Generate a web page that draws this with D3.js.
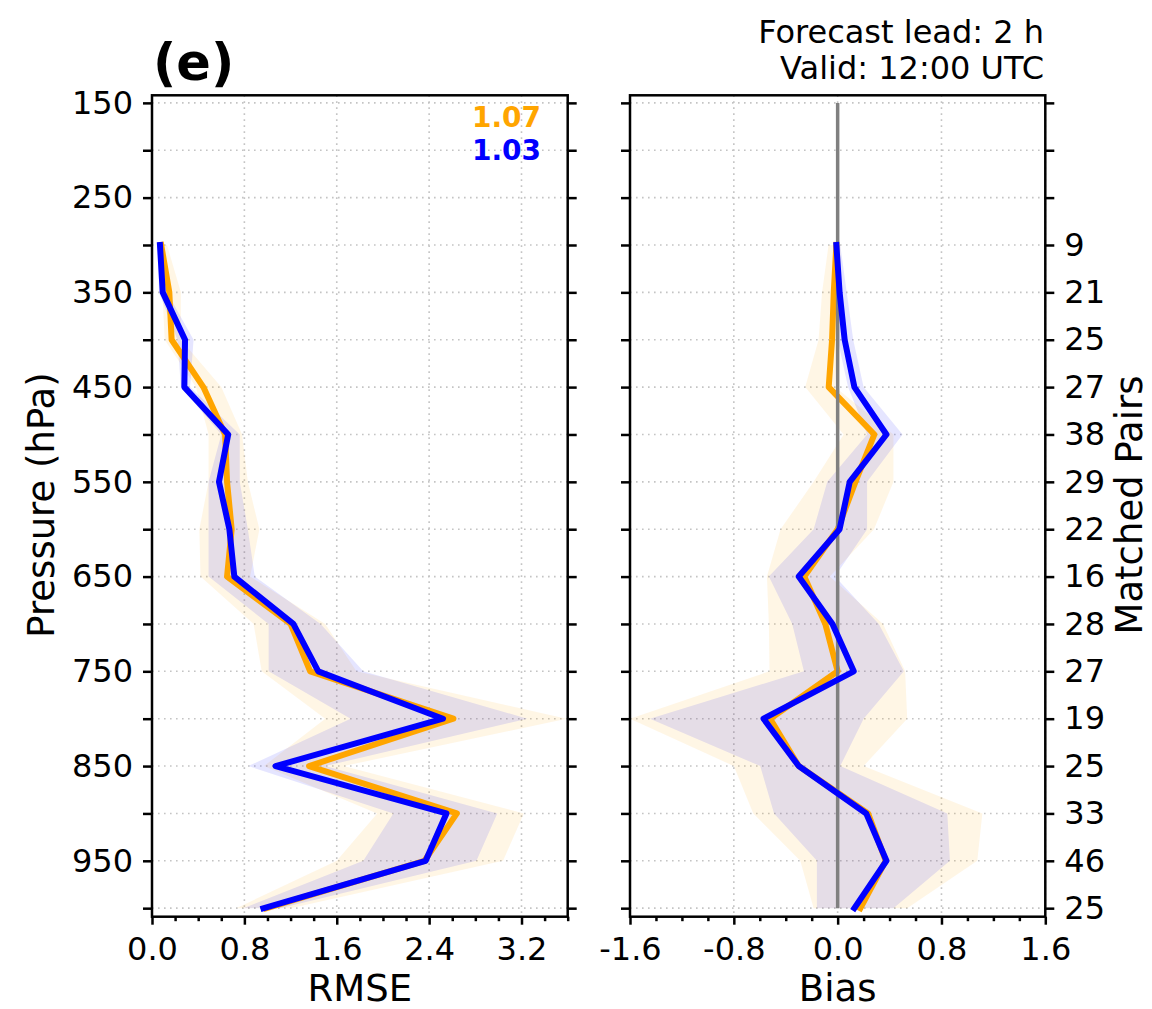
<!DOCTYPE html>
<html><head><meta charset="utf-8">
<script src="https://cdn.jsdelivr.net/npm/d3@7"></script>
<style>body{margin:0;background:#fff} text{font-family:"DejaVu Sans",sans-serif;fill:#000}</style>
</head><body><svg id="c" width="1152" height="1009"></svg>
<script>
// ---------------- data ----------------
const pressures     = [300, 350, 400, 450, 500, 550, 600, 650, 700, 750, 800, 850, 900, 950, 1000];
// RMSE (left panel)
const rmseOrange    = [0.08, 0.15, 0.17, 0.445, 0.633, 0.65, 0.69, 0.65, 1.20, 1.37, 2.61, 1.36, 2.64, 2.36, 0.99];
const rmseOrangeLo  = [0.06, 0.09, 0.11, 0.38, 0.49, 0.49, 0.41, 0.42, 0.88, 0.95, 1.50, 0.97, 1.95, 1.60, 0.73];
const rmseOrangeHi  = [0.13, 0.25, 0.25, 0.60, 0.78, 0.83, 0.93, 0.85, 1.50, 1.77, 3.59, 1.66, 3.22, 3.04, 1.20];
const rmseBlue      = [0.069, 0.093, 0.286, 0.28, 0.66, 0.58, 0.67, 0.713, 1.224, 1.44, 2.52, 1.07, 2.55, 2.37, 0.965];
const rmseBlueLo    = [0.05, 0.06, 0.22, 0.25, 0.60, 0.49, 0.49, 0.49, 1.01, 1.01, 1.72, 0.835, 2.09, 1.83, 0.79];
const rmseBlueHi    = [0.09, 0.13, 0.36, 0.33, 0.76, 0.76, 0.83, 0.89, 1.46, 1.83, 3.25, 1.50, 2.99, 2.81, 1.11];
// Bias (right panel)
const biasOrange    = [-0.01, -0.03, -0.043, -0.069, 0.283, 0.137, 0.0, -0.257, -0.095, 0.0, -0.52, -0.30, 0.235, 0.37, 0.175];
const biasOrangeLo  = [-0.07, -0.12, -0.147, -0.25, 0.046, -0.185, -0.44, -0.545, -0.53, -0.525, -1.60, -0.80, -0.65, -0.288, -0.185];
const biasOrangeHi  = [0.02, 0.03, 0.0, -0.02, 0.43, 0.43, 0.28, -0.06, 0.35, 0.52, 0.536, 0.20, 1.115, 1.076, 0.536];
const biasBlue      = [-0.01, 0.015, 0.054, 0.129, 0.376, 0.093, 0.015, -0.30, -0.04, 0.124, -0.571, -0.30, 0.22, 0.376, 0.129];
const biasBlueLo    = [-0.02, -0.01, 0.0, 0.08, 0.227, -0.08, -0.185, -0.53, -0.35, -0.26, -1.446, -0.597, -0.49, -0.16, -0.16];
const biasBlueHi    = [0.02, 0.07, 0.12, 0.20, 0.50, 0.227, 0.227, -0.02, 0.317, 0.51, 0.20, 0.02, 0.845, 0.865, 0.43];
const matchedPairs  = [9, 21, 25, 27, 38, 29, 22, 16, 28, 27, 19, 25, 33, 46, 25];
// ticks / labels
const pressureTicks  = [150,200,250,300,350,400,450,500,550,600,650,700,750,800,850,900,950,1000];
const pressureLabels = [150,250,350,450,550,650,750,850,950];
const rmseTicks      = [0, 0.8, 1.6, 2.4, 3.2];
const rmseMinor      = [0.2,0.4,0.6,1.0,1.2,1.4,1.8,2.0,2.2,2.6,2.8,3.0,3.4,3.6];
const biasTicks      = [-1.6, -0.8, 0, 0.8, 1.6];
const biasMinor      = [-1.4,-1.2,-1.0,-0.6,-0.4,-0.2,0.2,0.4,0.6,1.0,1.2,1.4];
const rmseScores     = ["1.07", "1.03"];
const seriesColors   = ["orange", "blue"];
const panelTitle     = "(e)";
const infoLines      = ["Forecast lead: 2 h", "Valid: 12:00 UTC"];

// ---------------- drawing ----------------
const svg = d3.select("#c");
const TOP = 95.3, BOT = 916.7;
const y = d3.scaleLinear().domain([142, 1009]).range([TOP, BOT]);
const xL = d3.scaleLinear().domain([0, 3.6]).range([152, 567.7]);
const xR = d3.scaleLinear().domain([-1.6, 1.6]).range([630, 1045.3]);
const fmt = d => d.toFixed(1);
const TICKFS = 32, LABFS = 37;

function panel(x, majors, minors, opts) {
  const g = svg.append("g");
  const [x0, x1] = x.range();
  // grid
  g.selectAll(".hg").data(pressureTicks).join("line")
    .attr("x1", x0).attr("x2", x1).attr("y1", d => y(d)).attr("y2", d => y(d))
    .attr("stroke", "#c4c4c4").attr("stroke-width", 1.6).attr("stroke-dasharray", "1.6,4.4");
  g.selectAll(".vg").data(majors).join("line")
    .attr("x1", d => x(d)).attr("x2", d => x(d)).attr("y1", TOP).attr("y2", BOT)
    .attr("stroke", "#c4c4c4").attr("stroke-width", 1.6).attr("stroke-dasharray", "1.6,4.4");

  const idx = d3.range(pressures.length);
  const area = (lo, hi) => d3.area().x0(i => x(lo[i])).x1(i => x(hi[i])).y(i => y(pressures[i]))(idx);
  const line = v => d3.line().x(i => x(v[i])).y(i => y(pressures[i]))(idx);
  g.append("path").attr("d", area(opts.oLo, opts.oHi)).attr("fill", "orange").attr("fill-opacity", 0.1);
  g.append("path").attr("d", area(opts.bLo, opts.bHi)).attr("fill", "blue").attr("fill-opacity", 0.1);
  g.append("path").attr("d", line(opts.o)).attr("fill", "none").attr("stroke", "orange")
    .attr("stroke-width", 6).attr("stroke-linejoin", "round").attr("stroke-linecap", "square");
  if (opts.zero) {
    g.append("line").attr("x1", x(0)).attr("x2", x(0)).attr("y1", y(150)).attr("y2", y(1000))
      .attr("stroke", "gray").attr("stroke-width", 3.5);
  }
  g.append("path").attr("d", line(opts.b)).attr("fill", "none").attr("stroke", "blue")
    .attr("stroke-width", 6).attr("stroke-linejoin", "round").attr("stroke-linecap", "square");

  // axes
  const ax = g.append("g").attr("transform", `translate(0,${BOT})`)
    .call(d3.axisBottom(x).tickValues(majors).tickSize(8).tickPadding(13).tickFormat(fmt));
  const axm = g.append("g").attr("transform", `translate(0,${BOT})`)
    .call(d3.axisBottom(x).tickValues(minors).tickSize(4.5).tickFormat(""));
  const al = g.append("g").attr("transform", `translate(${x0},0)`)
    .call(d3.axisLeft(y).tickValues(pressureTicks).tickSize(9).tickPadding(10)
      .tickFormat(d => opts.leftLabels && pressureLabels.includes(d) ? d : ""));
  const ar = g.append("g").attr("transform", `translate(${x1},0)`)
    .call(d3.axisRight(y).tickValues(pressureTicks).tickSize(9).tickPadding(10)
      .tickFormat(d => { if (!opts.rightLabels) return ""; const i = pressures.indexOf(d); return i >= 0 ? matchedPairs[i] : ""; }));
  [ax, axm, al, ar].forEach(a => {
    a.select(".domain").remove();
    a.selectAll(".tick line").attr("stroke", "#000").attr("stroke-width", 2.5);
    a.selectAll(".tick text").attr("font-size", TICKFS).attr("font-family", "DejaVu Sans").attr("fill", "#000");
  });
  // spines
  g.append("rect").attr("x", x0).attr("y", TOP).attr("width", x1 - x0).attr("height", BOT - TOP)
    .attr("fill", "none").attr("stroke", "#000").attr("stroke-width", 2.5);
  // xlabel
  g.append("text").attr("x", (x0 + x1) / 2).attr("y", 1001).attr("text-anchor", "middle")
    .attr("font-size", LABFS).text(opts.xlabel);
}

panel(xL, rmseTicks, rmseMinor, {o: rmseOrange, oLo: rmseOrangeLo, oHi: rmseOrangeHi,
  b: rmseBlue, bLo: rmseBlueLo, bHi: rmseBlueHi, leftLabels: true, xlabel: "RMSE"});
panel(xR, biasTicks, biasMinor, {o: biasOrange, oLo: biasOrangeLo, oHi: biasOrangeHi,
  b: biasBlue, bLo: biasBlueLo, bHi: biasBlueHi, rightLabels: true, zero: true, xlabel: "Bias"});

// y labels
svg.append("text").attr("transform", "translate(54,505) rotate(-90)").attr("text-anchor", "middle")
  .attr("font-size", LABFS).text("Pressure (hPa)");
svg.append("text").attr("transform", "translate(1142,505) rotate(-90)").attr("text-anchor", "middle")
  .attr("font-size", LABFS).text("Matched Pairs");

// panel title
svg.append("text").attr("x", 153).attr("y", 80).attr("font-size", 51).attr("font-weight", "bold").text(panelTitle);
// info text
infoLines.forEach((t, i) => svg.append("text").attr("x", 1044).attr("y", 43 + i * 36)
  .attr("text-anchor", "end").attr("font-size", TICKFS).text(t));
// RMSE scores
rmseScores.forEach((t, i) => svg.append("text").attr("x", 541).attr("y", 127 + i * 33)
  .attr("text-anchor", "end").attr("font-size", 28).attr("font-weight", "bold")
  .style("fill", seriesColors[i]).text(t));
</script></body></html>
